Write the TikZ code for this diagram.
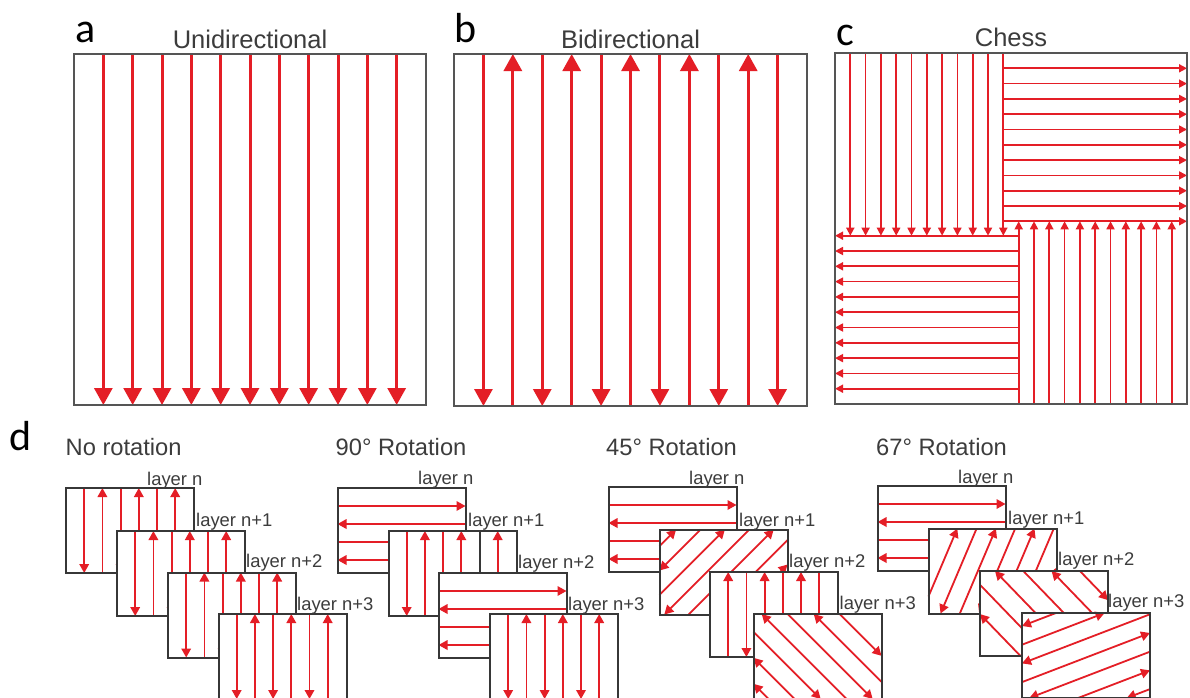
\documentclass[tikz,border=0pt]{standalone}
\usepackage{fontspec}
\setmainfont{Liberation Sans}
\newfontfamily\labfont{Carlito}
\usetikzlibrary{arrows.meta}
\definecolor{myred}{RGB}{228,30,38}
\definecolor{txt}{RGB}{60,60,60}
\definecolor{frame}{RGB}{85,85,85}
\definecolor{dframe}{RGB}{55,55,55}
\newcommand\bxfill[2]{\fill[white] (#1,#2) rectangle ++(128,85);}
\newcommand\bxline[2]{\draw[dfrm] (#1,#2) rectangle ++(128,85);}
\newcommand\vertA[2]{%
 \foreach \i in {1,3,5}{\draw[sarr] ({#1+18.2*\i},#2) -- ({#1+18.2*\i},{#2+85});}%
 \foreach \i in {2,4,6}{\draw[sarr] ({#1+18.2*\i},{#2+85}) -- ({#1+18.2*\i},#2);}}
\newcommand\vertB[2]{%
 \foreach \i in {2,4,6}{\draw[sarr] ({#1+18.2*\i},#2) -- ({#1+18.2*\i},{#2+85});}%
 \foreach \i in {1,3,5}{\draw[sarr] ({#1+18.2*\i},{#2+85}) -- ({#1+18.2*\i},#2);}}
\newcommand\horA[2]{%
 \foreach \j in {1,3}{\draw[sarr] (#1,{#2+18*\j}) -- ({#1+128},{#2+18*\j});}%
 \foreach \j in {2,4}{\draw[sarr] ({#1+128},{#2+18*\j}) -- (#1,{#2+18*\j});}}
% clipped diagonal segment: #1 L, #2 T, #3 dx, #4 dy, #5 Px, #6 Py, #7 style
\newcommand\dseg[7]{%
  \pgfmathsetmacro\dsa{((#1)-(#5))/(#3)}%
  \pgfmathsetmacro\dsb{((#1)+128-(#5))/(#3)}%
  \pgfmathsetmacro\dsc{((#2)-(#6))/(#4)}%
  \pgfmathsetmacro\dsd{((#2)+85-(#6))/(#4)}%
  \pgfmathsetmacro\dslo{max(min(\dsa,\dsb),min(\dsc,\dsd))}%
  \pgfmathsetmacro\dshi{min(max(\dsa,\dsb),max(\dsc,\dsd))}%
  \pgfmathtruncatemacro\dsok{(\dshi-\dslo)>3}%
  \ifnum\dsok=1
    \draw[#7] ({(#5)+(\dslo)*(#3)},{(#6)+(\dslo)*(#4)}) -- ({(#5)+(\dshi)*(#3)},{(#6)+(\dshi)*(#4)});%
  \fi}
\begin{document}
\begin{tikzpicture}[x=1pt,y=-1pt,
 bigarr/.style={draw=myred,line width=3pt,-{Triangle[width=18pt,length=17pt]}},
 carr/.style={draw=myred,line width=1.7pt,-{Triangle[width=8pt,length=8pt]}},
 sarr/.style={draw=myred,line width=1.8pt,-{Triangle[width=9.5pt,length=9pt]}},
 sarrb/.style={draw=myred,line width=1.8pt,{Triangle[width=9.5pt,length=9pt]}-},
 frm/.style={draw=frame,line width=2pt},
 dfrm/.style={draw=dframe,line width=2pt},
 ttl/.style={text=txt,font=\fontsize{25.5}{30}\selectfont,inner sep=0pt,anchor=base},
 sub/.style={text=txt,font=\fontsize{23.7}{28}\selectfont,inner sep=0pt,anchor=base west},
 lay/.style={text=txt,font=\fontsize{18.4}{22}\selectfont,inner sep=0pt,anchor=base west},
 lab/.style={text=black,font=\labfont\fontsize{42}{48}\selectfont,inner sep=0pt,anchor=base west},
]
\useasboundingbox (0,0) rectangle (1190,697);
\clip (0,0) rectangle (1190,697);
\fill[white] (0,0) rectangle (1190,697);

% ---------- panel a ----------
\node[lab] (la) at (75.5,42.7) {a};
\node[ttl] (ta) at (250,48) {Unidirectional};
\foreach \i in {1,...,11}{\draw[bigarr] ({74+29.333*\i},54) -- ({74+29.333*\i},405);}
\draw[frm] (74,54) rectangle (426,405);

% ---------- panel b ----------
\node[lab] (lb) at (454.5,42.7) {b};
\node[ttl] (tb) at (630.5,48) {Bidirectional};
\foreach \i in {1,3,...,11}{\draw[bigarr] ({454+29.42*\i},54) -- ({454+29.42*\i},406);}
\foreach \i in {2,4,...,10}{\draw[bigarr] ({454+29.42*\i},406) -- ({454+29.42*\i},54);}
\draw[frm] (454,54) rectangle (807,406);

% ---------- panel c ----------
\node[lab] (lc) at (836,45) {c};
\node[ttl] (tc) at (1011,46.7) {Chess};
\foreach \i in {1,...,11}{%
  \draw[carr] ({835+15.3*\i},53) -- ({835+15.3*\i},235.7);
  \draw[carr] (1003.3,{53+15.3*\i}) -- (1187,{53+15.3*\i});
  \draw[carr] ({1187-15.3*\i},404) -- ({1187-15.3*\i},221.3);
  \draw[carr] (1018.7,{404-15.3*\i}) -- (835,{404-15.3*\i});
}
\draw[frm] (835,53) rectangle (1187,404);

% ---------- panel d ----------
\node[lab] (ld) at (9,450) {d};
\node[sub] (s1) at (65.5,455) {No rotation};
\node[sub] (s2) at (335.5,455) {90° Rotation};
\node[sub] (s3) at (606,455) {45° Rotation};
\node[sub] (s4) at (876,455) {67° Rotation};

% group 1: no rotation
\bxfill{66}{488}\vertA{66}{488}\bxline{66}{488}
\bxfill{117}{531}\vertA{117}{531}\bxline{117}{531}
\bxfill{168}{572.5}\vertA{168}{572.5}\bxline{168}{572.5}
\bxfill{218.5}{614}\vertA{218.5}{614}\bxline{218.5}{614}
\node[lay] (g1a) at (147,485) {layer n};
\node[lay] (g1b) at (196,526) {layer n+1};
\node[lay] (g1c) at (246,567.7) {layer n+2};
\node[lay] (g1d) at (297,610) {layer n+3};

% group 2: 90 degrees
\bxfill{337.5}{488}\horA{337.5}{488}\bxline{337.5}{488}
\bxfill{388.5}{531}\vertA{388.5}{531}
\draw[dframe,line width=2pt] (479.5,531) -- (479.5,616);
\bxline{388.5}{531}
\bxfill{438.5}{573}\horA{438.5}{573}\bxline{438.5}{573}
\bxfill{490}{614}\vertA{490}{614}\bxline{490}{614}
\node[lay] (g2a) at (418,484.3) {layer n};
\node[lay] (g2b) at (468,526) {layer n+1};
\node[lay] (g2c) at (518,568) {layer n+2};
\node[lay] (g2d) at (568,610) {layer n+3};

% group 3: 45 degrees
\bxfill{608.5}{487}\horA{608.5}{487}\bxline{608.5}{487}
\bxfill{659.5}{529.5}
\foreach \k in {0,2,4,6}{\dseg{659.5}{529.5}{0.7071}{-0.7071}{659.5+16.6+24.4*\k}{529.5}{sarr}}
\foreach \k in {1,3,5,7}{\dseg{659.5}{529.5}{0.7071}{-0.7071}{659.5+16.6+24.4*\k}{529.5}{sarrb}}
\bxline{659.5}{529.5}
\bxfill{710}{572}\vertB{710}{572}\bxline{710}{572}
\bxfill{753.5}{614}
\foreach \k in {-3,-2,0,2}{\dseg{753.5}{614}{0.7071}{0.7071}{753.5+8.2+26*\k}{614}{sarrb}}
\foreach \k in {-1,1,3}{\dseg{753.5}{614}{0.7071}{0.7071}{753.5+8.2+26*\k}{614}{sarr}}
\bxline{753.5}{614}
\node[lay] (g3a) at (689,484.3) {layer n};
\node[lay] (g3b) at (739,526) {layer n+1};
\node[lay] (g3c) at (789,567.7) {layer n+2};
\node[lay] (g3d) at (839.5,609.3) {layer n+3};

% group 4: 67 degrees
\bxfill{877.5}{486}\horA{877.5}{486}\bxline{877.5}{486}
\bxfill{928.5}{528.5}
\foreach \k in {0,2,4,6}{\dseg{928.5}{528.5}{0.3907}{-0.9205}{928.5+28.8+19.3*\k}{528.5}{sarr}}
\foreach \k in {1,3,5}{\dseg{928.5}{528.5}{0.3907}{-0.9205}{928.5+28.8+19.3*\k}{528.5}{sarrb}}
\bxline{928.5}{528.5}
\bxfill{980}{571}
\foreach \k in {-2,0,2}{\dseg{980}{571}{0.6947}{0.7193}{980+15+28.3*\k}{571}{sarrb}}
\foreach \k in {-1,1,3}{\dseg{980}{571}{0.6947}{0.7193}{980+15+28.3*\k}{571}{sarr}}
\bxline{980}{571}
\bxfill{1022}{613}
\foreach \k in {0,2,4,6}{\dseg{1022}{613}{0.9336}{-0.3584}{1022}{626+18.7*\k}{sarrb}}
\foreach \k in {1,3,5,7}{\dseg{1022}{613}{0.9336}{-0.3584}{1022}{626+18.7*\k}{sarr}}
\bxline{1022}{613}
\node[lay] (g4a) at (958,483.3) {layer n};
\node[lay] (g4b) at (1008,524.5) {layer n+1};
\node[lay] (g4c) at (1058,565.5) {layer n+2};
\node[lay] (g4d) at (1108,607) {layer n+3};
\end{tikzpicture}
\end{document}
